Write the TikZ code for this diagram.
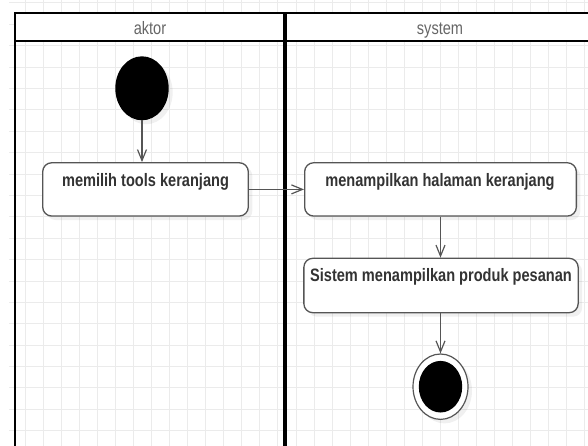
\documentclass[tikz,border=0pt]{standalone}
\usepackage{fontspec}
\setmainfont{Liberation Sans}[FakeStretch=0.81]
\usetikzlibrary{arrows.meta,shadows,shapes.geometric}
\definecolor{gridc}{HTML}{EBEBEB}
\definecolor{linec}{HTML}{555555}
\definecolor{txtc}{HTML}{333333}
\definecolor{headc}{HTML}{666666}
\tikzset{
  actbox/.style={draw=linec, line width=1.3pt, fill=white, rounded corners=9pt,
    drop shadow={opacity=0.12, shadow xshift=4pt, shadow yshift=-4pt}},
  acttext/.style={anchor=base, text=txtc, inner sep=0pt, font=\fontsize{18}{20}\selectfont\bfseries},
  headtext/.style={anchor=base, text=headc, inner sep=0pt, font=\fontsize{18}{20}\selectfont},
  flow/.style={draw=linec, line width=1.2pt, -{Straight Barb[length=11pt,width=9pt,line width=1.2pt]}},
  lane/.style={draw=black, line width=2pt},
}
\begin{document}
\begin{tikzpicture}[x=1pt,y=-1pt]
\useasboundingbox (0,0) rectangle (588,446);
\clip (0,0) rectangle (588,446);
% grid
\foreach \i in {0,...,31} {
  \draw[gridc, line width=0.9pt] ({25.5+18.03*\i},0) -- ({25.5+18.03*\i},446);
}
\foreach \j in {0,...,20} {
  \draw[gridc, line width=0.9pt] (9,{2.9+21.39*\j}) -- (588,{2.9+21.39*\j});
}
% lanes
\fill[white] (15,13) rectangle (600,41);
\draw[lane] (15,460) -- (15,13) -- (600,13);
\draw[lane] (15,41) -- (600,41);
\draw[draw=black, line width=4pt] (285,13) -- (285,460);
\node[headtext] (h1) at (150,34.3) {aktor};
\node[headtext] (h2) at (440,34.3) {system};
% start
\node[ellipse, fill=black, minimum width=53.4pt, minimum height=64pt, inner sep=0pt,
  drop shadow={opacity=0.12, shadow xshift=4pt, shadow yshift=-4pt}] (start) at (142,88.3) {};
% activity boxes
\node[actbox, minimum width=205.6pt, minimum height=53.3pt] (n1) at (145.5,189.4) {};
\node[acttext] (t1) at (145.5,186.6) {memilih tools keranjang};
\node[actbox, minimum width=271.7pt, minimum height=53.3pt] (n2) at (440.5,189.4) {};
\node[acttext] (t2) at (440,186.2) {menampilkan halaman keranjang};
\node[actbox, minimum width=274.3pt, minimum height=54.4pt] (n3) at (441,285.5) {};
\node[acttext] (t3) at (441,281.7) {Sistem menampilkan produk pesanan};
% end
\node[ellipse, draw=linec, line width=1.2pt, fill=white, minimum width=55pt, minimum height=65.4pt, inner sep=0pt,
  drop shadow={opacity=0.12, shadow xshift=4pt, shadow yshift=-4pt}] (end) at (440.5,386.7) {};
\node[ellipse, fill=black, minimum width=43.4pt, minimum height=51.6pt, inner sep=0pt] (endin) at (440.5,386.7) {};
% flows
\draw[flow] (start.south) -- (start.south |- n1.north);
\draw[flow] (n1.east) -- (n2.west);
\draw[flow] (n2.south) -- (n2.south |- n3.north);
\draw[flow] (end.north |- n3.south) -- (end.north);
\end{tikzpicture}
\end{document}
